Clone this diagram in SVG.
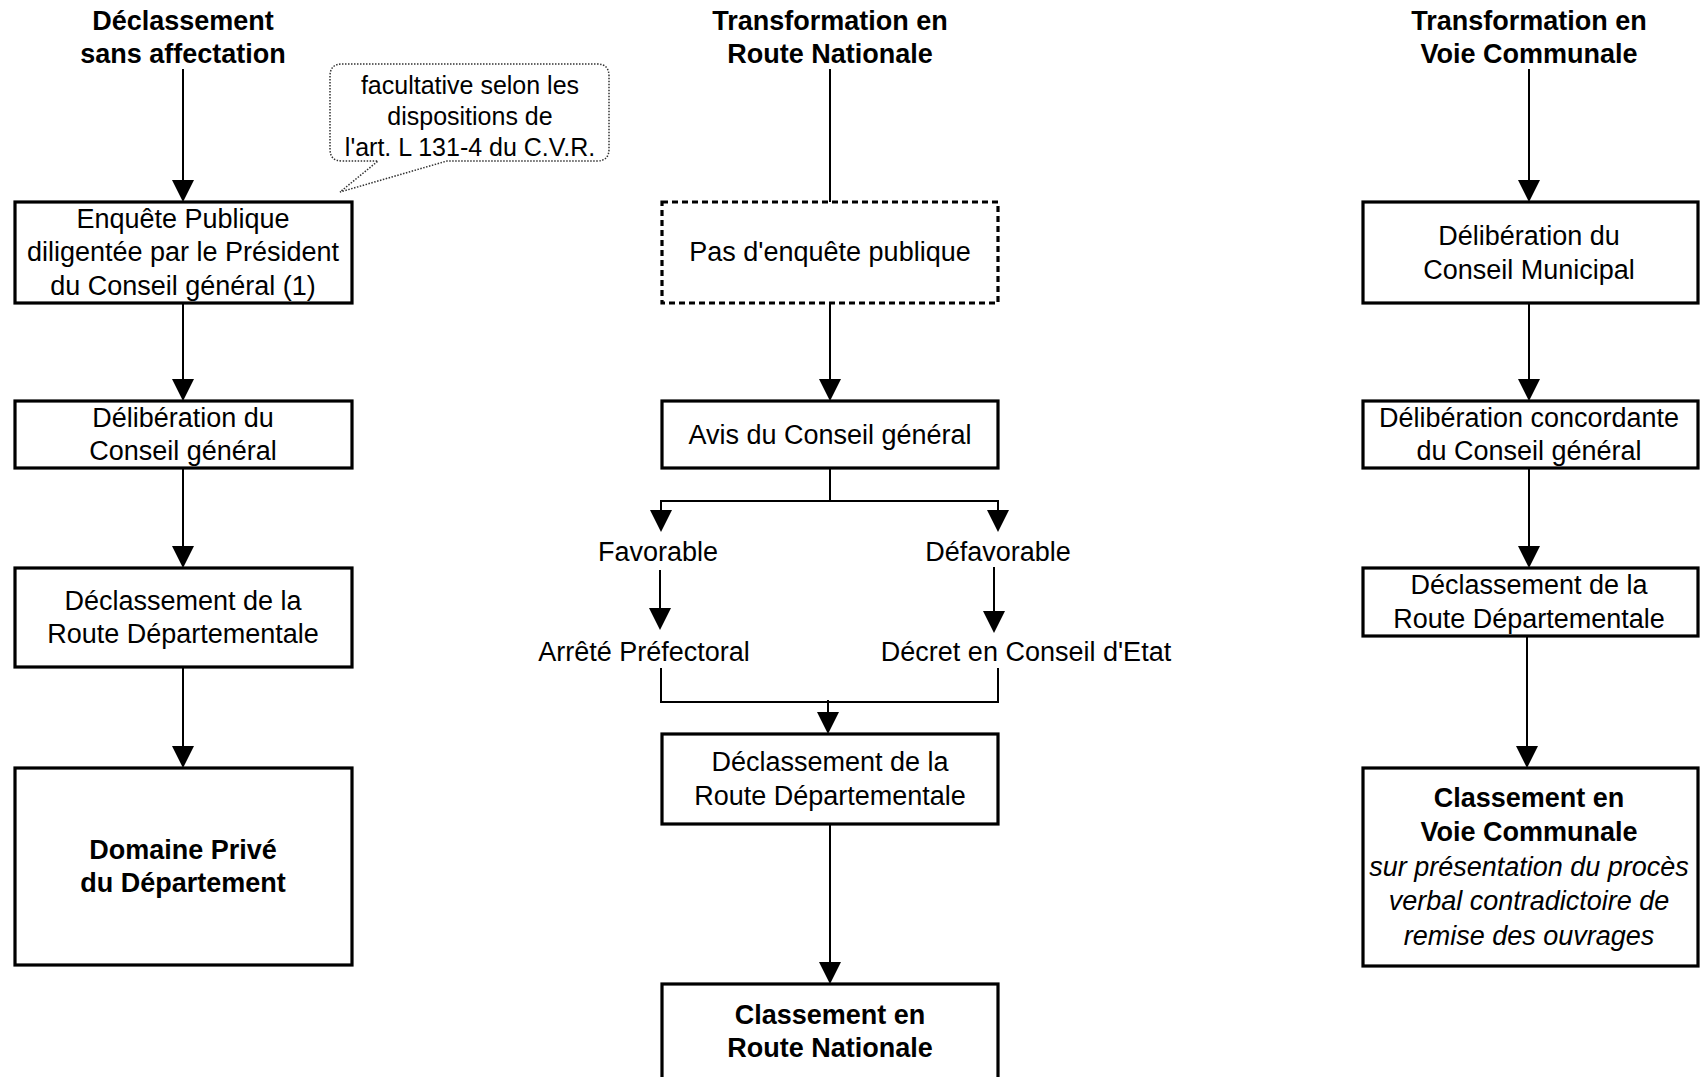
<svg xmlns="http://www.w3.org/2000/svg" width="1706" height="1077" viewBox="0 0 1706 1077">
  <defs>
    <style>
      .box { fill: #fff; stroke: #000; stroke-width: 3.2; }
      .dashed { stroke-dasharray: 6 4; }
      .t { font-family: "Liberation Sans", Arial, sans-serif; font-size: 27px; text-anchor: middle; fill: #000; }
      .b { font-weight: bold; }
      .i { font-style: italic; }
      .note { font-size: 25px; }
      .c { fill: none; stroke: #000; stroke-width: 2; }
      .bubble { fill: #fff; stroke: #333; stroke-width: 1.5; stroke-dasharray: 1.5 1.5; }
    </style>
    <marker id="arrow" markerUnits="userSpaceOnUse" markerWidth="22" markerHeight="22" refX="11" refY="11" orient="auto">
      <path d="M0,0 L22,11 L0,22 Z" fill="#000"/>
    </marker>
  </defs>
  <rect width="1706" height="1077" fill="#fff"/>

  <!-- column headings -->
  <g id="title-declassement">
    <text class="t b" x="183" y="30">Déclassement</text>
    <text class="t b" x="183" y="63">sans affectation</text>
  </g>
  <g id="title-rn">
    <text class="t b" x="830" y="30">Transformation en</text>
    <text class="t b" x="830" y="63">Route Nationale</text>
  </g>
  <g id="title-vc">
    <text class="t b" x="1529" y="30">Transformation en</text>
    <text class="t b" x="1529" y="63">Voie Communale</text>
  </g>

  <!-- connectors -->
  <g id="connectors">
    <!-- left column -->
    <line class="c" x1="183" y1="69" x2="183" y2="191" marker-end="url(#arrow)"/>
    <line class="c" x1="183" y1="303" x2="183" y2="390" marker-end="url(#arrow)"/>
    <line class="c" x1="183" y1="468" x2="183" y2="557" marker-end="url(#arrow)"/>
    <line class="c" x1="183" y1="667" x2="183" y2="757" marker-end="url(#arrow)"/>
    <!-- middle column -->
    <line class="c" x1="830" y1="69" x2="830" y2="202"/>
    <line class="c" x1="830" y1="303" x2="830" y2="390" marker-end="url(#arrow)"/>
    <polyline class="c" points="830,468 830,501"/>
    <polyline class="c" points="661,521 661,501 998,501 998,521"/>
    <line class="c" x1="661" y1="501" x2="661" y2="521" marker-end="url(#arrow)"/>
    <line class="c" x1="998" y1="501" x2="998" y2="521" marker-end="url(#arrow)"/>
    <line class="c" x1="660" y1="570" x2="660" y2="619" marker-end="url(#arrow)"/>
    <line class="c" x1="994" y1="567" x2="994" y2="622" marker-end="url(#arrow)"/>
    <polyline class="c" points="661,668 661,702 998,702 998,668"/>
    <line class="c" x1="828" y1="700" x2="828" y2="723" marker-end="url(#arrow)"/>
    <line class="c" x1="830" y1="824" x2="830" y2="973" marker-end="url(#arrow)"/>
    <!-- right column -->
    <line class="c" x1="1529" y1="69" x2="1529" y2="191" marker-end="url(#arrow)"/>
    <line class="c" x1="1529" y1="303" x2="1529" y2="390" marker-end="url(#arrow)"/>
    <line class="c" x1="1529" y1="468" x2="1529" y2="557" marker-end="url(#arrow)"/>
    <line class="c" x1="1527" y1="636" x2="1527" y2="757" marker-end="url(#arrow)"/>
  </g>

  <!-- left column nodes -->
  <g id="note-cvr">
    <path class="bubble" d="M342,64 H597 Q609,64 609,76 V149 Q609,161 597,161 H447 L340,192 L378,161 H342 Q330,161 330,149 V76 Q330,64 342,64 Z"/>
    <text class="t note" x="470" y="94">facultative selon les</text>
    <text class="t note" x="470" y="125">dispositions de</text>
    <text class="t note" x="470" y="156">l'art. L 131-4 du C.V.R.</text>
  </g>
  <g id="enquete-publique">
    <rect class="box" x="15" y="202" width="337" height="101"/>
    <text class="t" x="183" y="228">Enquête Publique</text>
    <text class="t" x="183" y="261">diligentée par le Président</text>
    <text class="t" x="183" y="295">du Conseil général (1)</text>
  </g>
  <g id="deliberation-cg">
    <rect class="box" x="15" y="401" width="337" height="67"/>
    <text class="t" x="183" y="427">Délibération du</text>
    <text class="t" x="183" y="460">Conseil général</text>
  </g>
  <g id="declassement-rd-left">
    <rect class="box" x="15" y="568" width="337" height="99"/>
    <text class="t" x="183" y="610">Déclassement de la</text>
    <text class="t" x="183" y="643">Route Départementale</text>
  </g>
  <g id="domaine-prive">
    <rect class="box" x="15" y="768" width="337" height="197"/>
    <text class="t b" x="183" y="859">Domaine Privé</text>
    <text class="t b" x="183" y="892">du Département</text>
  </g>

  <!-- middle column nodes -->
  <g id="pas-enquete">
    <rect class="box dashed" x="662" y="202" width="336" height="101"/>
    <text class="t" x="830" y="261">Pas d'enquête publique</text>
  </g>
  <g id="avis-cg">
    <rect class="box" x="662" y="401" width="336" height="67"/>
    <text class="t" x="830" y="444">Avis du Conseil général</text>
  </g>
  <g id="favorable">
    <text class="t" x="658" y="561">Favorable</text>
  </g>
  <g id="defavorable">
    <text class="t" x="998" y="561">Défavorable</text>
  </g>
  <g id="arrete-prefectoral">
    <text class="t" x="644" y="661">Arrêté Préfectoral</text>
  </g>
  <g id="decret-ce">
    <text class="t" x="1026" y="661">Décret en Conseil d'Etat</text>
  </g>
  <g id="declassement-rd-middle">
    <rect class="box" x="662" y="734" width="336" height="90"/>
    <text class="t" x="830" y="771">Déclassement de la</text>
    <text class="t" x="830" y="805">Route Départementale</text>
  </g>
  <g id="classement-rn">
    <rect class="box" x="662" y="984" width="336" height="110"/>
    <text class="t b" x="830" y="1024">Classement en</text>
    <text class="t b" x="830" y="1057">Route Nationale</text>
  </g>

  <!-- right column nodes -->
  <g id="deliberation-cm">
    <rect class="box" x="1363" y="202" width="335" height="101"/>
    <text class="t" x="1529" y="245">Délibération du</text>
    <text class="t" x="1529" y="279">Conseil Municipal</text>
  </g>
  <g id="deliberation-concordante">
    <rect class="box" x="1363" y="401" width="335" height="67"/>
    <text class="t" x="1529" y="427">Délibération concordante</text>
    <text class="t" x="1529" y="460">du Conseil général</text>
  </g>
  <g id="declassement-rd-right">
    <rect class="box" x="1363" y="568" width="335" height="68"/>
    <text class="t" x="1529" y="594">Déclassement de la</text>
    <text class="t" x="1529" y="628">Route Départementale</text>
  </g>
  <g id="classement-vc">
    <rect class="box" x="1363" y="768" width="335" height="198"/>
    <text class="t b" x="1529" y="807">Classement en</text>
    <text class="t b" x="1529" y="841">Voie Communale</text>
    <text class="t i" x="1529" y="876">sur présentation du procès</text>
    <text class="t i" x="1529" y="910">verbal contradictoire de</text>
    <text class="t i" x="1529" y="945">remise des ouvrages</text>
  </g>
</svg>
